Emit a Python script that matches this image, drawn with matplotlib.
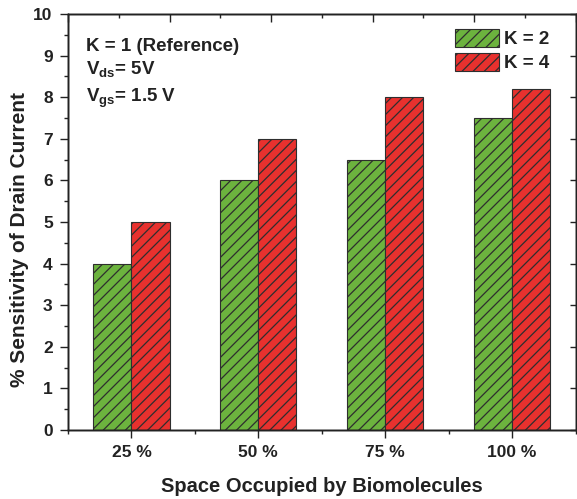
import numpy as np
import matplotlib
matplotlib.use("Agg")
import matplotlib.pyplot as plt
from matplotlib.ticker import MultipleLocator, FixedLocator, NullFormatter

plt.rcParams['font.family'] = ['Liberation Sans', 'DejaVu Sans']
plt.rcParams['font.weight'] = 'bold'
plt.rcParams['mathtext.fontset'] = 'custom'
plt.rcParams['mathtext.rm'] = 'Liberation Sans:bold'
plt.rcParams['mathtext.it'] = 'Liberation Sans:bold'
plt.rcParams['mathtext.bf'] = 'Liberation Sans:bold'
plt.rcParams['hatch.linewidth'] = 0.9

# Data
categories = ['25 %', '50 %', '75 %', '100 %']
k2_values = [4.0, 6.0, 6.5, 7.5]
k4_values = [5.0, 7.0, 8.0, 8.2]
series_labels = ['K = 2', 'K = 4']

green = '#6cb33e'
red = '#e8312e'
edge = '#2e2e2e'
ink = '#222222'

fig = plt.figure(figsize=(5.77, 4.99), dpi=100)
ax = fig.add_axes([68 / 577, 69 / 499, 507.5 / 577, 416 / 499])

x = np.arange(1, len(categories) + 1)
w = 0.3
ax.bar(x - w / 2, k2_values, w, color=green, edgecolor=edge, linewidth=0.8,
       hatch='///', label=series_labels[0])
ax.bar(x + w / 2, k4_values, w, color=red, edgecolor=edge, linewidth=0.8,
       hatch='///', label=series_labels[1])

ax.set_xlim(0.5, 4.5)
ax.set_ylim(0, 10)
ax.set_xticks(x)
ax.set_xticklabels(categories)
ax.xaxis.set_minor_locator(FixedLocator(np.arange(0.5, 4.6, 1.0)))
ax.yaxis.set_major_locator(MultipleLocator(1))
ax.yaxis.set_minor_locator(MultipleLocator(0.5))

for s in ax.spines.values():
    s.set_linewidth(1.0)
    s.set_color(ink)

ax.tick_params(axis='both', which='major', direction='out', length=6,
               width=1.0, labelsize=12.5, pad=5, colors=ink)
ax.tick_params(axis='both', which='minor', direction='out', length=3,
               width=1.0, colors=ink)
ax.tick_params(axis='x', which='major', pad=5)
for lbl in ax.get_xticklabels() + ax.get_yticklabels():
    lbl.set_fontweight('bold')

# Inner ticks on the top and right frame
top = ax.twiny()
top.set_xlim(ax.get_xlim())
top.xaxis.set_major_locator(FixedLocator(np.linspace(0.5, 4.5, 6)))
top.xaxis.set_minor_locator(FixedLocator(np.linspace(0.5, 4.5, 11)))
top.xaxis.set_major_formatter(NullFormatter())
top.tick_params(axis='x', which='major', direction='in', length=6, width=1.0, colors=ink)
top.tick_params(axis='x', which='minor', direction='in', length=3, width=1.0, colors=ink)

right = ax.twinx()
right.set_ylim(ax.get_ylim())
right.yaxis.set_major_locator(MultipleLocator(1))
right.yaxis.set_major_formatter(NullFormatter())
right.tick_params(axis='y', which='major', direction='in', length=4, width=1.0, colors=ink)
for a in (top, right):
    for s in a.spines.values():
        s.set_linewidth(1.0)
        s.set_color(ink)

ax.set_xlabel('Space Occupied by Biomolecules', fontsize=14.5, fontweight='bold',
              color=ink, labelpad=12)
ax.set_ylabel('% Sensitivity of Drain Current', fontsize=15, fontweight='bold',
              color=ink)
ax.yaxis.set_label_coords(-0.076, 0.457)

txt_kw = dict(transform=ax.transAxes, fontsize=13.5, fontweight='bold',
              color=ink, va='baseline', ha='left')
ax.text(0.035, 0.911, 'K = 1 (Reference)', **txt_kw)
ax.text(0.035, 0.856, r'V$_{\mathrm{ds}}$= 5V', **txt_kw)
ax.text(0.035, 0.788, r'V$_{\mathrm{gs}}$= 1.5 V', **txt_kw)

leg = ax.legend(loc='upper left', bbox_to_anchor=(0.762, 0.965), frameon=False,
                fontsize=13.5, handlelength=2.35, handleheight=1.1,
                handletextpad=0.3, labelspacing=0.25, borderpad=0, borderaxespad=0)
for t in leg.get_texts():
    t.set_fontweight('bold')
    t.set_color(ink)

fig.savefig('out.png', dpi=100)
